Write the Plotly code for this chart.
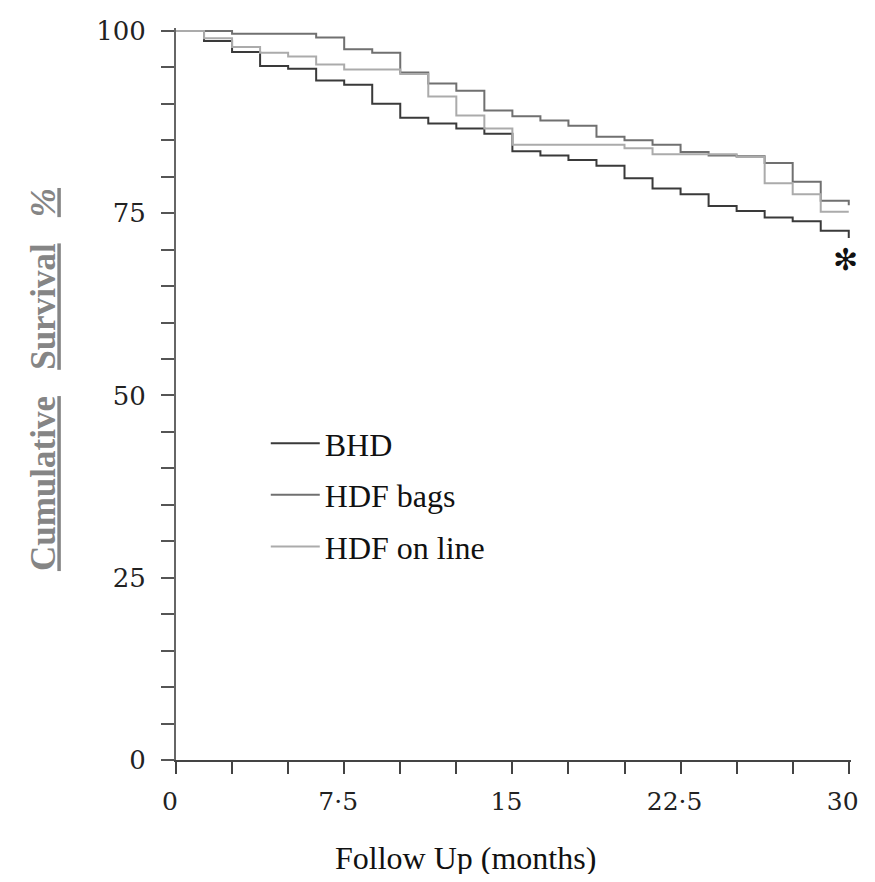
import plotly.graph_objects as go

# follow-up time (months), start of each 1.25-month step, plus the end point
months = [0, 1.25, 2.5, 3.75, 5, 6.25, 7.5, 8.75, 10, 11.25, 12.5, 13.75,
          15, 16.25, 17.5, 18.75, 20, 21.25, 22.5, 23.75, 25, 26.25, 27.5, 28.75, 30]

# cumulative survival (%)
bhd = [100, 98.6, 97.1, 95.2, 94.8, 93.2, 92.6, 90.0, 88.1, 87.3, 86.6, 85.9,
       83.5, 82.9, 82.3, 81.5, 79.8, 78.4, 77.6, 76.0, 75.3, 74.4, 73.9, 72.6, 71.6]
hdf_bags = [100, 100, 99.6, 99.6, 99.6, 99.1, 97.5, 97.0, 94.3, 92.8, 91.8, 89.1,
            88.3, 87.7, 87.0, 85.5, 85.0, 84.4, 83.4, 82.9, 82.8, 81.9, 79.3, 76.7, 76.1]
hdf_online = [100, 99.0, 97.8, 97.0, 96.5, 95.4, 94.7, 94.7, 94.1, 91.0, 88.4, 86.6,
              84.4, 84.4, 84.4, 84.4, 83.9, 83.1, 83.1, 83.1, 82.7, 79.1, 77.6, 75.2, 75.2]

x_ticks = [0, 7.5, 15, 22.5, 30]
x_labels = ["0", "7·5", "15", "22·5", "30"]
y_ticks = [0, 25, 50, 75, 100]

series = [
    ("BHD", bhd, "#3a3a3a"),
    ("HDF bags", hdf_bags, "#707070"),
    ("HDF on line", hdf_online, "#ababab"),
]

fig = go.Figure()
for name, vals, color in series:
    fig.add_trace(go.Scatter(
        x=months, y=vals, name=name, mode="lines", line_shape="hv",
        line=dict(color=color, width=2), legendgroup=name))

serif = "Liberation Serif"
tickfont = dict(family="DejaVu Serif", size=26, color="#222")

# page body keeps its 8px margin all round, so the figure is 16px smaller than the window
fig.update_layout(
    width=859, height=866,
    margin=dict(l=168, r=8, t=16, b=114),
    paper_bgcolor="white", plot_bgcolor="white",
    showlegend=True,
    legend=dict(x=0.133, y=0.47, xanchor="left", yanchor="top",
                font=dict(family=serif, size=32, color="#111"),
                tracegroupgap=7, itemwidth=49, bgcolor="rgba(0,0,0,0)"),
    xaxis=dict(range=[0, 30.1], tickvals=x_ticks, ticktext=x_labels,
               ticks="outside", ticklen=12, tickwidth=2, tickcolor="#444",
               showline=True, linewidth=2, linecolor="#444",
               showgrid=False, zeroline=False,
               tickfont=dict(family="DejaVu Serif", size=25, color="#222"),
               ticklabelstandoff=6, ticklabelshift=-6, ticklabeloverflow="allow",
               minor=dict(tickvals=[2.5 * i for i in range(13)], ticks="outside",
                          ticklen=12, tickwidth=2, tickcolor="#444", showgrid=False)),
    yaxis=dict(range=[0, 100.4], tickvals=y_ticks,
               ticks="outside", ticklen=13, tickwidth=2, tickcolor="#555",
               showline=True, linewidth=2, linecolor="#666",
               showgrid=False, zeroline=False, tickfont=tickfont,
               ticklabelstandoff=10,
               minor=dict(tickvals=[5 * i for i in range(21)], ticks="outside",
                          ticklen=13, tickwidth=2, tickcolor="#555", showgrid=False)),
)

fig.add_annotation(text="Follow Up (months)", xref="paper", yref="paper",
                   x=0.429, y=-0.134, showarrow=False, xanchor="center", yanchor="middle",
                   font=dict(family=serif, size=32, color="#111"))
fig.add_annotation(text="<b><u>Cumulative</u>\u00a0\u00a0\u00a0<u>Survival</u>\u00a0\u00a0\u00a0<u><i>%</i></u></b>",
                   xref="paper", yref="paper", x=-0.196, y=0.52, textangle=-90,
                   showarrow=False, xanchor="center", yanchor="middle",
                   font=dict(family=serif, size=35, color="#858585"))
fig.add_annotation(text="✻", x=30, y=bhd[-1], showarrow=False, yshift=-22, xshift=-3,
                   xanchor="center", yanchor="middle",
                   font=dict(family="DejaVu Sans", size=30, color="#111"))

fig.write_html("out.html", config={"displayModeBar": False})
